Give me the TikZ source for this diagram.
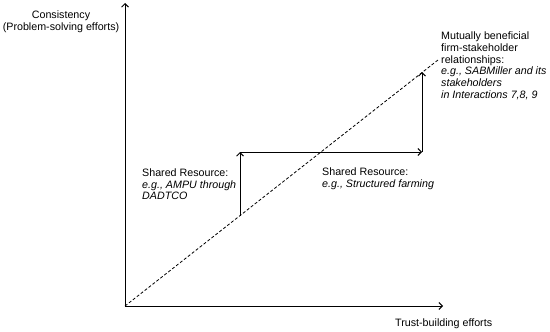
\documentclass[tikz,border=0pt]{standalone}
\usepackage{fontspec}
\setmainfont{Liberation Sans}
\usetikzlibrary{arrows.meta}
\begin{document}
\begin{tikzpicture}[x=1pt,y=-1pt,
  lbl/.style={inner sep=0pt,font=\fontsize{10.7}{11.7}\selectfont,align=left},
  axis/.style={line width=0.9pt,-{Straight Barb[length=3.5pt,width=7pt]}},
  stepline/.style={line width=0.9pt,-{Straight Barb[length=3.5pt,width=7pt]}},
  trend/.style={line width=0.8pt,dash pattern=on 3pt off 2pt}]
\useasboundingbox (0,0) rectangle (550,332);
\coordinate (O) at (125,306);
\coordinate (Ytip) at (125,3);
\coordinate (Xtip) at (443,306);
\coordinate (D) at (438,60);
\coordinate (A) at (240,216);
\coordinate (B) at (240,152);
\coordinate (C) at (422,152);
\coordinate (E) at (422,72);
\draw[axis] (O) -- (Ytip);
\draw[axis] (O) -- (Xtip);
\draw[trend] (O) -- (D);
\draw[stepline] (A) -- (B);
\draw[stepline] (B) -- (C);
\draw[stepline] (C) -- (E);
\node[lbl,align=center,anchor=north] (ylab) at (61,11) {Consistency\\(Problem-solving efforts)};
\node[lbl,anchor=west] (xlab) at (395,324) {Trust-building efforts};
\node[lbl,anchor=north west] (mb) at (441,31.8) {Mutually beneficial\\firm-stakeholder\\relationships:\\\textit{e.g., SABMiller and its}\\\textit{stakeholders}\\\textit{in Interactions 7,8, 9}};
\node[lbl,anchor=north west] (sr1) at (142,168.4) {Shared Resource:\\\textit{e.g., AMPU through}\\\textit{DADTCO}};
\node[lbl,anchor=north west] (sr2) at (322,167.8) {Shared Resource:\\\textit{e.g., Structured farming}};
\end{tikzpicture}
\end{document}
